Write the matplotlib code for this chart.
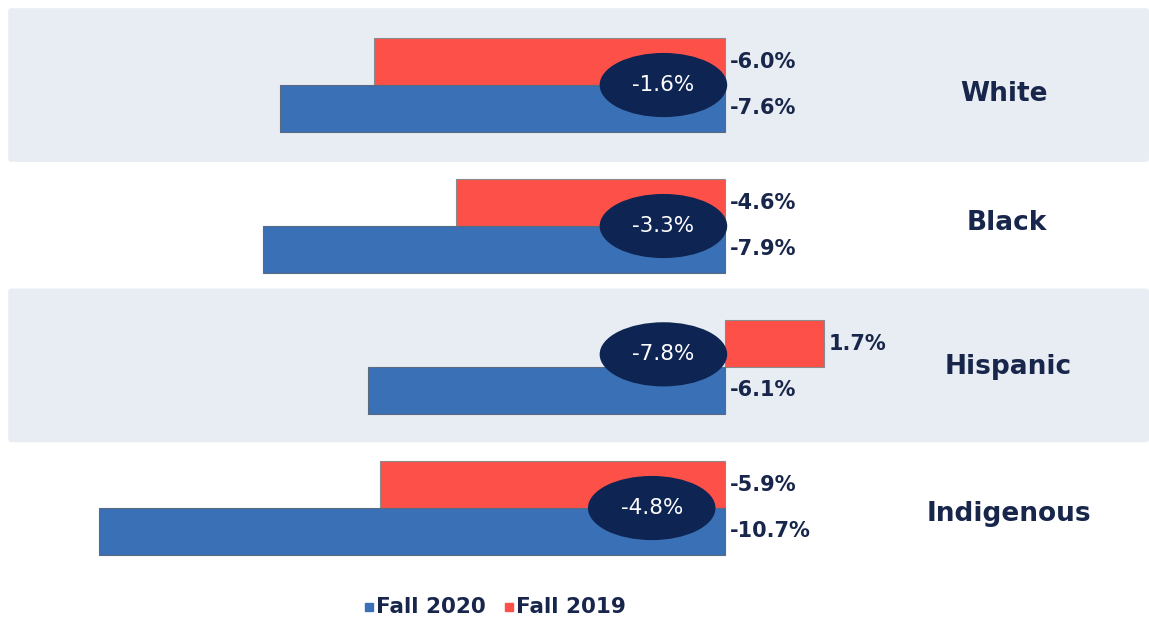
import matplotlib
matplotlib.use("Agg")
import matplotlib.pyplot as plt
from matplotlib.patches import Ellipse, FancyBboxPatch

# data
groups = ["White", "Black", "Hispanic", "Indigenous"]
fall_2019 = [-6.0, -4.6, 1.7, -5.9]
fall_2020 = [-7.6, -7.9, -6.1, -10.7]
gap_labels = ["-1.6%", "-3.3%", "-7.8%", "-4.8%"]
series_names = ["Fall 2020", "Fall 2019"]

RED = "#fd5049"
BLUE = "#3a70b5"
NAVY = "#0e2553"
TEXT = "#17264a"
BAND = "#e8ecf3"
FONT = ["DejaVu Sans"]

fig = plt.figure(figsize=(11.49, 6.18), dpi=100)
ax = fig.add_axes([0, 0, 1, 1])
ax.set_xlim(-12.39, 7.25)
ax.set_ylim(3.78, -0.603)
ax.axis("off")

bar_h = 0.333
ys = list(range(len(groups)))

# shaded bands behind White and Hispanic
band_c = {0: 0.0, 2: -0.012}
for i, dy in band_c.items():
    ax.add_patch(FancyBboxPatch((-12.25, i + dy - 0.545), 19.5, 1.09,
                                boxstyle="round,pad=0,rounding_size=0.06",
                                fc=BAND, ec="none", zorder=0,
                                mutation_aspect=0.4))

ax.barh([y - bar_h / 2 for y in ys], fall_2019, height=bar_h, color=RED,
        edgecolor="#8a8a8a", linewidth=0.8, zorder=2)
ax.barh([y + bar_h / 2 for y in ys], fall_2020, height=bar_h, color=BLUE,
        edgecolor="#5a6a80", linewidth=0.8, zorder=2)

lab_kw = dict(fontsize=15, fontweight="bold", color=TEXT, va="center",
              family=FONT, zorder=4)
for y, a, b in zip(ys, fall_2019, fall_2020):
    ax.text(max(a, 0) + 0.08, y - bar_h / 2, f"{a:.1f}%", **lab_kw)
    ax.text(max(b, 0) + 0.08, y + bar_h / 2, f"{b:.1f}%", **lab_kw)

# gap ellipses
ell_x = [-1.05, -1.05, -1.05, -1.25]
ell_dy = [0.0, 0.0, -0.09, 0.0]
for y, gx, dy, txt in zip(ys, ell_x, ell_dy, gap_labels):
    ax.add_patch(Ellipse((gx, y + dy), 2.18, 0.455, fc=NAVY, ec="none",
                         zorder=3))
    ax.text(gx, y + dy, txt, color="white", fontsize=15.5, ha="center",
            va="center", family=FONT, zorder=4)

# category labels
lab_x = [4.77, 4.82, 4.85, 4.85]
lab_dy = [0.065, -0.02, 0.0, 0.04]
for y, g, lx, dy in zip(ys, groups, lab_x, lab_dy):
    ax.text(lx, y + dy, g, fontsize=19, fontweight="bold", color=TEXT,
            ha="center", va="center", family=FONT)

# legend
leg_y = 3.70
ax.plot([-6.09], [leg_y], marker="s", ms=6, color=BLUE, ls="none")
ax.text(-5.97, leg_y, series_names[0], fontsize=15.5, fontweight="bold",
        color=TEXT, va="center", family=FONT)
ax.plot([-3.69], [leg_y], marker="s", ms=6, color=RED, ls="none")
ax.text(-3.57, leg_y, series_names[1], fontsize=15.5, fontweight="bold",
        color=TEXT, va="center", family=FONT)

fig.savefig("out.png", dpi=100)
